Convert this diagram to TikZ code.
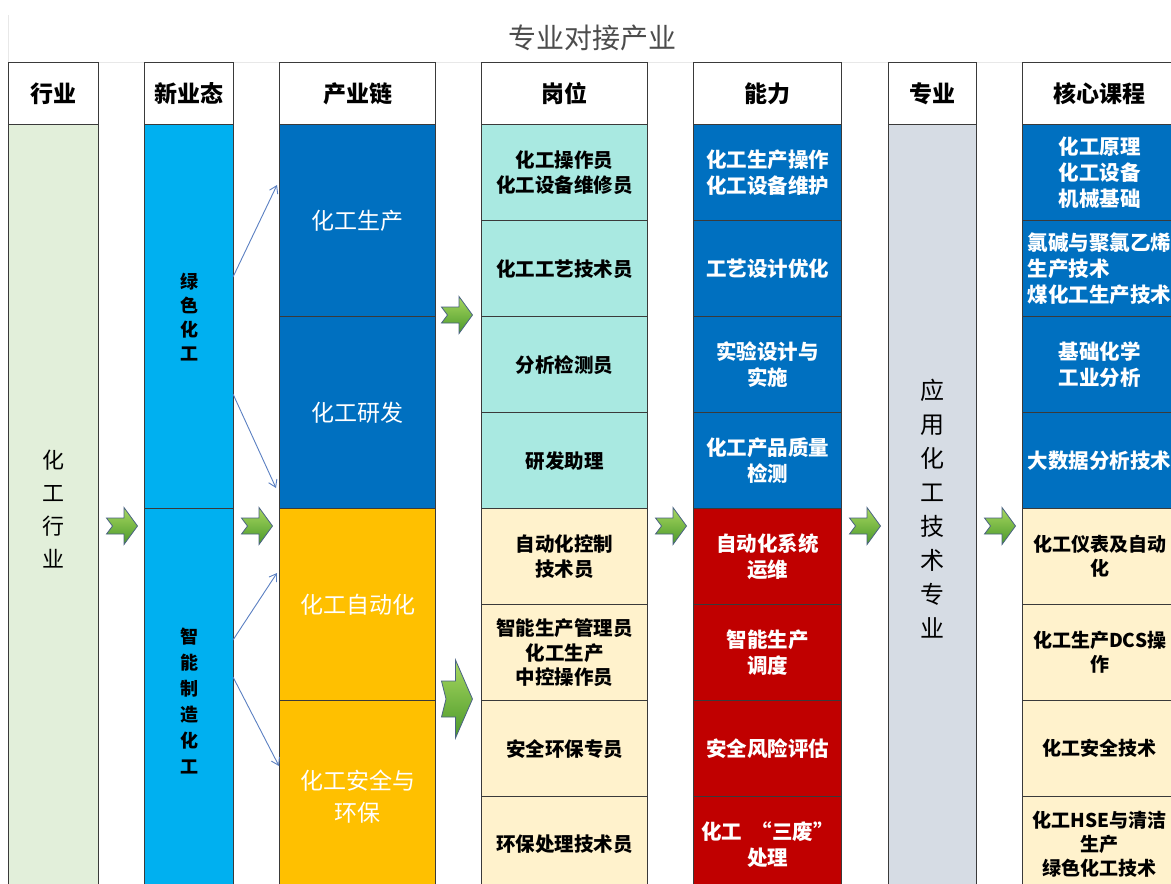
\documentclass[tikz,border=0pt]{standalone}
\usepackage{fontspec}
\setmainfont{Noto Sans CJK SC}
\usetikzlibrary{arrows.meta}
\definecolor{hydeep}{HTML}{0070C0}
\definecolor{hysky}{HTML}{00B0F0}
\definecolor{hygold}{HTML}{FFC000}
\definecolor{hyred}{HTML}{C00000}
\definecolor{hyteal}{HTML}{A9E9E1}
\definecolor{hycream}{HTML}{FFF2CC}
\definecolor{hygreen}{HTML}{E2EFDA}
\definecolor{hygray}{HTML}{D6DCE4}
\definecolor{hyline}{HTML}{3A3A3A}
\definecolor{hyarrow}{HTML}{5B80C2}
\definecolor{hygtop}{HTML}{A8D860}
\definecolor{hygbot}{HTML}{4A982A}
\definecolor{hygedge}{HTML}{4A6283}
\begin{document}
\begin{tikzpicture}[x=1pt,y=1pt,
  cell/.style={draw=hyline, line width=1.3pt, inner sep=0pt, align=center, anchor=north west},
  hdr/.style={cell, fill=white, minimum height=62pt, font=\bfseries\fontsize{23}{28}\selectfont},
  chain/.style={cell, minimum width=156pt, minimum height=192pt, text=white, font=\fontsize{23}{32}\selectfont},
  post/.style={cell, minimum width=166pt, minimum height=96pt, font=\bfseries\fontsize{19.5}{24.5}\selectfont},
  abil/.style={cell, minimum width=148pt, minimum height=96pt, text=white, font=\bfseries\fontsize{20.5}{26}\selectfont},
  core/.style={cell, minimum width=154pt, minimum height=96pt, text=white, font=\bfseries\fontsize{20.5}{26}\selectfont},
  corey/.style={cell, minimum width=154pt, minimum height=96pt, fill=hycream, font=\bfseries\fontsize{19}{24}\selectfont},
  thin/.style={draw=hyarrow, line width=0.9pt, -{Straight Barb[length=7pt,width=9pt]}},
  garrow/.pic={\shade[top color=hygtop, bottom color=hygbot, draw=hygedge, line width=0.8pt]
     (-15.5,8)--(2,8)--(2,18.5)--(15.5,0)--(2,-18.5)--(2,-8)--(-15.5,-8)--(-9.5,0)--cycle;},
  gbig/.pic={\shade[top color=hygtop, bottom color=hygbot, draw=hygedge, line width=0.8pt]
     (-15.5,18)--(-1.5,18)--(-1.5,39)--(15.5,0)--(-1.5,-39)--(-1.5,-18)--(-15.5,-18)--(-11,0)--cycle;}
]
\path[use as bounding box] (0,0) rectangle (1171,-884);
\clip (0,0) rectangle (1171,-884);
\fill[white] (0,0) rectangle (1171,-884);
\draw[gray!18, line width=0.8pt] (8,-15) -- (8,-884);
\draw[gray!18, line width=0.8pt] (8,-62) -- (1171,-62);

\node[font=\fontsize{28}{32}\selectfont, text=black!70] (title) at (592,-38) {专业对接产业};

% column 1
\node[hdr, minimum width=90pt] (h1) at (8,-62) {行业};
\node[cell, fill=hygreen, minimum width=90pt, minimum height=768pt, font=\fontsize{22}{33}\selectfont] (x1) at (8,-124) {化\\工\\行\\业};

% column 2
\node[hdr, minimum width=89pt] (h2) at (144,-62) {新业态};
\node[cell, fill=hysky, minimum width=89pt, minimum height=384pt, font=\bfseries\fontsize{18}{24}\selectfont] (x2a) at (144,-124) {绿\\色\\化\\工};
\node[cell, fill=hysky, minimum width=89pt, minimum height=384pt, font=\bfseries\fontsize{18}{26}\selectfont] (x2b) at (144,-508) {智\\能\\制\\造\\化\\工};

% column 3
\node[hdr, minimum width=156pt] (h3) at (279,-62) {产业链};
\node[chain, fill=hydeep] (x3a) at (279,-124) {化工生产};
\node[chain, fill=hydeep] (x3b) at (279,-316) {化工研发};
\node[chain, fill=hygold] (x3c) at (279,-508) {化工自动化};
\node[chain, fill=hygold] (x3d) at (279,-700) {化工安全与\\环保};

% column 4
\node[hdr, minimum width=166pt] (h4) at (481,-62) {岗位};
\node[post, fill=hyteal] (p1) at (481,-124) {化工操作员\\化工设备维修员};
\node[post, fill=hyteal] (p2) at (481,-220) {化工工艺技术员};
\node[post, fill=hyteal] (p3) at (481,-316) {分析检测员};
\node[post, fill=hyteal] (p4) at (481,-412) {研发助理};
\node[post, fill=hycream] (p5) at (481,-508) {自动化控制\\技术员};
\node[post, fill=hycream] (p6) at (481,-604) {智能生产管理员\\化工生产\\中控操作员};
\node[post, fill=hycream] (p7) at (481,-700) {安全环保专员};
\node[post, fill=hycream] (p8) at (481,-796) {环保处理技术员};

% column 5
\node[hdr, minimum width=148pt] (h5) at (693,-62) {能力};
\node[abil, fill=hydeep] (a1) at (693,-124) {化工生产操作\\化工设备维护};
\node[abil, fill=hydeep] (a2) at (693,-220) {工艺设计优化};
\node[abil, fill=hydeep] (a3) at (693,-316) {实验设计与\\实施};
\node[abil, fill=hydeep] (a4) at (693,-412) {化工产品质量\\检测};
\node[abil, fill=hyred] (a5) at (693,-508) {自动化系统\\运维};
\node[abil, fill=hyred] (a6) at (693,-604) {智能生产\\调度};
\node[abil, fill=hyred] (a7) at (693,-700) {安全风险评估};
\node[abil, fill=hyred] (a8) at (693,-796) {化工\ \ “三废”\\处理};

% column 6
\node[hdr, minimum width=88pt] (h6) at (888,-62) {专业};
\node[cell, fill=hygray, minimum width=88pt, minimum height=768pt, font=\fontsize{24}{34}\selectfont] (x6) at (888,-124) {应\\用\\化\\工\\技\\术\\专\\业};

% column 7
\node[hdr, minimum width=154pt] (h7) at (1022,-62) {核心课程};
\node[core, fill=hydeep] (k1) at (1022,-124) {化工原理\\化工设备\\机械基础};
\node[core, fill=hydeep, align=left] (k2) at (1022,-220) {氯碱与聚氯乙烯\\生产技术\\煤化工生产技术};
\node[core, fill=hydeep] (k3) at (1022,-316) {基础化学\\工业分析};
\node[core, fill=hydeep] (k4) at (1022,-412) {大数据分析技术};
\node[corey] (k5) at (1022,-508) {化工仪表及自动\\化};
\node[corey] (k6) at (1022,-604) {化工生产DCS操\\作};
\node[corey] (k7) at (1022,-700) {化工安全技术};
\node[corey] (k8) at (1022,-796) {化工HSE与清洁\\生产\\绿色化工技术};

% green block arrows
\pic at (122,-526) {garrow};
\pic at (257,-526) {garrow};
\pic at (457,-315) {garrow};
\pic at (457,-699) {gbig};
\pic at (671,-526) {garrow};
\pic at (865,-526) {garrow};
\pic at (1000,-526) {garrow};

% thin arrows
\coordinate (l1s) at (233,-277); \coordinate (l1e) at (277,-185);
\coordinate (l2s) at (233,-394); \coordinate (l2e) at (276,-488);
\coordinate (l3s) at (233,-640); \coordinate (l3e) at (277,-573);
\coordinate (l4s) at (233,-677); \coordinate (l4e) at (279,-766);
\draw[thin] (l1s) -- (l1e);
\draw[thin] (l2s) -- (l2e);
\draw[thin] (l3s) -- (l3e);
\draw[thin] (l4s) -- (l4e);
\end{tikzpicture}
\end{document}
